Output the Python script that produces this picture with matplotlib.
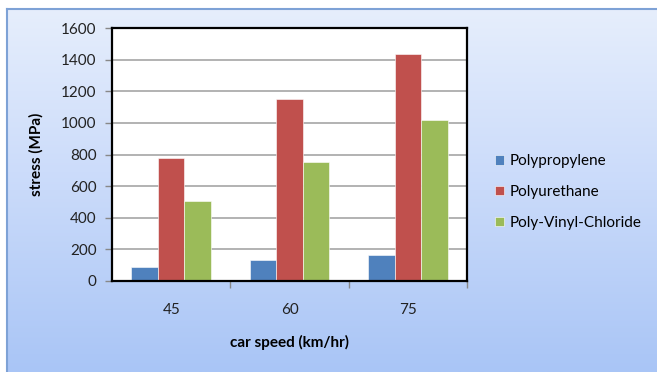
import matplotlib
matplotlib.use("Agg")
import matplotlib.pyplot as plt
import numpy as np
from matplotlib.colors import LinearSegmentedColormap

categories = ["45", "60", "75"]
series_names = ["Polypropylene", "Polyurethane", "Poly-Vinyl-Chloride"]
polypropylene = [90, 133, 165]
polyurethane = [775, 1150, 1435]
pvc = [505, 750, 1020]
colors = ["#4f81bd", "#c0504d", "#9bbb59"]
yticks = [0, 200, 400, 600, 800, 1000, 1200, 1400, 1600]

plt.rcParams['font.family'] = ['Lato', 'DejaVu Sans']
FS = 11

W, H = 657, 372
fig = plt.figure(figsize=(W/100, H/100), dpi=100)
fig.patch.set_facecolor("white")

# gradient background panel
bg = fig.add_axes([7/W, 0, 1 - 7/W, 1 - 9/H])
cmap = LinearSegmentedColormap.from_list("g", ["#e6eefc", "#c9dafa", "#a9c5f6"])
grad = np.linspace(0, 1, 256).reshape(-1, 1)
bg.imshow(grad, aspect="auto", cmap=cmap, extent=[0, 1, 0, 1], origin="upper")
bg.set_xlim(0, 1); bg.set_ylim(0, 1)
bg.set_xticks([]); bg.set_yticks([])
for s in ["right", "bottom"]:
    bg.spines[s].set_visible(False)
for s in ["left", "top"]:
    bg.spines[s].set_color("#7ea2d6")
    bg.spines[s].set_linewidth(1.5)

left, right, top, bottom = 112, 467, 28, 281
ax = fig.add_axes([left/W, 1 - bottom/H, (right-left)/W, (bottom-top)/H])
ax.set_facecolor("white")
x = np.arange(len(categories))
bw = 0.225
data = [polypropylene, polyurethane, pvc]
for i, (vals, name, c) in enumerate(zip(data, series_names, colors)):
    ax.bar(x + (i - 1) * bw, vals, width=bw, color=c, label=name, zorder=2,
           edgecolor="white", linewidth=0.4)
ax.set_xlim(-0.5, 2.5)
ax.set_ylim(0, 1600)
ax.set_yticks(yticks)
ax.set_yticklabels([str(v) for v in yticks], fontsize=FS, color="#222222")
ax.yaxis.grid(True, color="#a6a6a6", linewidth=1.2, zorder=0)
ax.set_axisbelow(True)
ax.set_xticks(x)
ax.set_xticklabels(categories, fontsize=FS, color="#222222")
ax.tick_params(axis="x", which="major", length=0, pad=16)
ax.set_xticks([0.5, 1.5, 2.5], minor=True)
ax.tick_params(axis="x", which="minor", direction="out", length=5, color="#888888", width=1)
ax.tick_params(axis="y", direction="out", length=5, color="#888888", width=1, pad=6)
for s in ax.spines.values():
    s.set_color("black")
    s.set_linewidth(1.6)
    s.set_zorder(5)
ax.set_ylabel("stress (MPa)", fontsize=FS, fontweight="bold", labelpad=13)
ax.set_xlabel("car speed (km/hr)", fontsize=FS, fontweight="bold", labelpad=13)

leg = fig.legend(loc="center left", bbox_to_anchor=(481/W, 1 - 192/H),
                 frameon=False, fontsize=FS, handlelength=0.6, handleheight=0.6,
                 handletextpad=0.4, labelspacing=1.1)

fig.savefig("out.png", dpi=100)
